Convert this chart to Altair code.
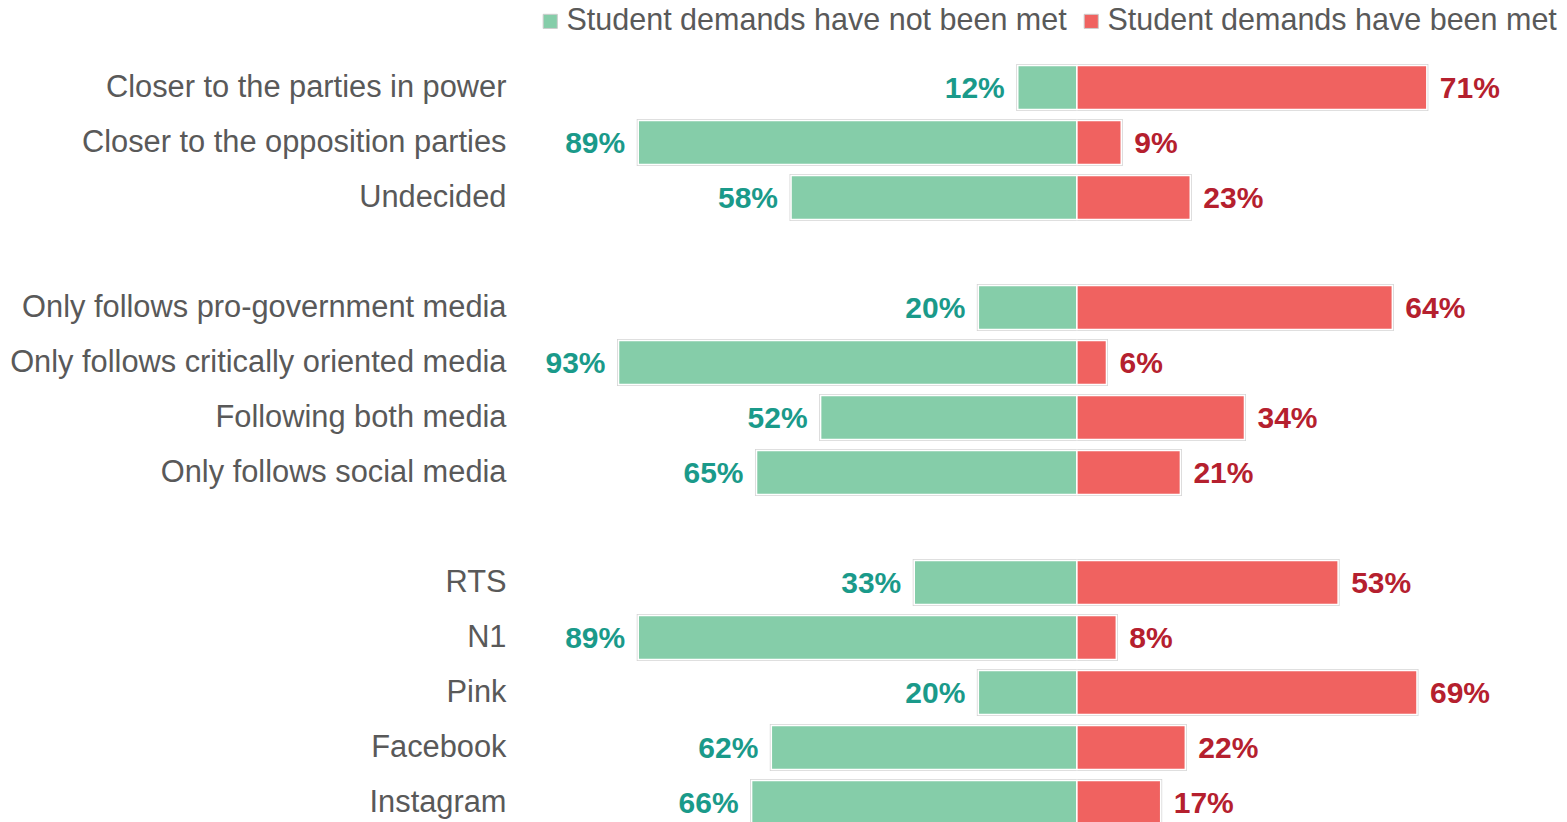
import altair as alt
import pandas as pd

categories = [
    "Closer to the parties in power",
    "Closer to the opposition parties",
    "Undecided",
    "Only follows pro-government media",
    "Only follows critically oriented media",
    "Following both media",
    "Only follows social media",
    "RTS",
    "N1",
    "Pink",
    "Facebook",
    "Instagram",
]
not_met = [12, 89, 58, 20, 93, 52, 65, 33, 89, 20, 62, 66]
met = [71, 9, 23, 64, 6, 34, 21, 53, 8, 69, 22, 17]

S_NOT = "Student demands have not been met"
S_MET = "Student demands have been met"

y_domain = categories[:3] + [" "] + categories[3:7] + ["  "] + categories[7:]

rows = []
for c, n, m in zip(categories, not_met, met):
    rows.append({"category": c, "series": S_NOT, "start": 0, "end": -n, "label": f"{n}%"})
    rows.append({"category": c, "series": S_MET, "start": 0, "end": m, "label": f"{m}%"})
df = pd.DataFrame(rows)

FONT = "Liberation Sans"
GREEN = "#85cda9"
RED = "#f06260"

xscale = alt.Scale(domain=[-113.8, 97], nice=False, zero=False)
yscale = alt.Scale(domain=y_domain, paddingInner=0.2, paddingOuter=0.1)

base = alt.Chart(df).encode(
    y=alt.Y("category:N", scale=yscale, sort=y_domain, title=None,
            axis=alt.Axis(domain=False, ticks=False, grid=False, labelPadding=10,
                          labelFontSize=30.8, labelColor="#595959", labelFont=FONT,
                          labelLimit=700)),
)

color = alt.Color("series:N",
                  scale=alt.Scale(domain=[S_NOT, S_MET], range=[GREEN, RED]),
                  legend=alt.Legend(title=None, orient="none", legendX=19, legendY=-54,
                                    direction="horizontal", symbolType="square",
                                    symbolSize=200, symbolStrokeColor="#cccccc",
                                    symbolStrokeWidth=1, labelFontSize=30.5,
                                    labelColor="#595959", labelFont=FONT,
                                    labelOffset=1, columnPadding=9, labelLimit=700,
                                    padding=0))

bars_outer = base.mark_bar(stroke="#d4d4d4", strokeWidth=3).encode(
    x=alt.X("start:Q", scale=xscale, axis=None), x2="end:Q", color=color)
bars_inner = base.mark_bar(stroke="white", strokeWidth=1.5).encode(
    x=alt.X("start:Q", scale=xscale, axis=None), x2="end:Q", color=color)

txt_not = base.mark_text(align="right", baseline="middle", dx=-13, dy=1, fontSize=30,
                         fontWeight="bold", font=FONT, color="#1a9a8a").encode(
    x=alt.X("end:Q", scale=xscale, axis=None), text="label:N"
).transform_filter(alt.datum.series == S_NOT)

txt_met = base.mark_text(align="left", baseline="middle", dx=13, dy=1, fontSize=30,
                         fontWeight="bold", font=FONT, color="#b5202e").encode(
    x=alt.X("end:Q", scale=xscale, axis=None), text="label:N"
).transform_filter(alt.datum.series == S_MET)

chart = alt.layer(bars_outer, bars_inner, txt_not, txt_met).properties(
    width=1039, height=770,
    autosize=alt.AutoSizeParams(type="none"),
    padding={"left": 508, "top": 52, "right": 4, "bottom": 0},
).configure(background="white").configure_view(strokeWidth=0, stroke="transparent")

chart.save("out.html", embed_options={"renderer": "svg", "actions": False})
